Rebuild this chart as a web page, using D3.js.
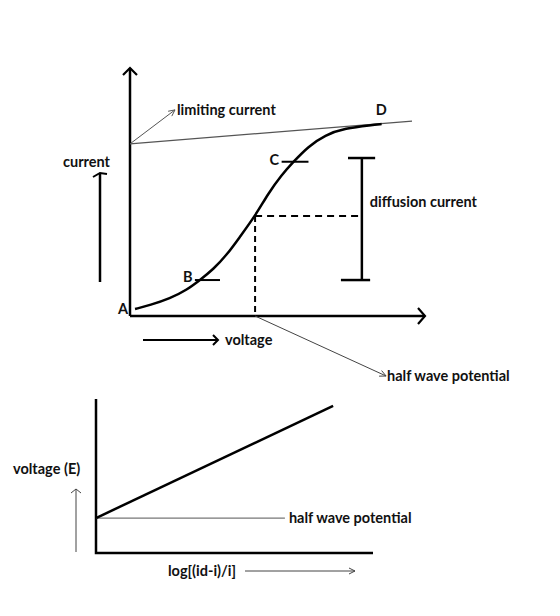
<!DOCTYPE html>
<html><head><meta charset="utf-8">
<script src="https://cdn.jsdelivr.net/npm/d3@7"></script>
<style>
html,body{margin:0;padding:0;background:#fff;}
text{font-family:Lato,"Open Sans",sans-serif;font-weight:bold;font-size:14.5px;fill:#111;}
</style></head>
<body>
<script>
// ---- Data (top: polarogram, abstract units 0..100) ----
const curveX = [1.7, 6.8, 13.6, 19.2, 23.7, 28.2, 32.8, 37.3, 42.4, 46.9, 51.4, 55.4, 60.4, 66.1, 72.9, 81.9, 85.3];
const curveY = [2.8, 4.4, 7.1, 10.5, 14.5, 18.8, 24.6, 32.0, 40.3, 49.5, 56.9, 62.2, 68.3, 73.0, 75.7, 77.0, 77.4];
const pointLabels = ["A", "B", "C", "D"];
const pointIndex = [0, 4, 11, 16];
const tangentX = [0, 95.6];
const tangentY = [69.4, 78.6];
const halfWaveX = 42.4, halfWaveY = 40.3;
const diffusionX = 78.6, diffusionTop = 63.7, diffusionBottom = 14.5;
// ---- Data (bottom: log plot) ----
const logLineX = [0, 85.6];
const logLineY = [22.7, 95.5];
const halfWaveLevel = 22.7;
const halfWaveLineEnd = 68.2;

const svg = d3.select("body").append("svg").attr("width", 560).attr("height", 616);
svg.append("rect").attr("width", 560).attr("height", 616).attr("fill", "#fff");

const x = d3.scaleLinear().domain([0, 100]).range([130, 425]);
const y = d3.scaleLinear().domain([0, 100]).range([316, 68]);

const g = svg.append("g");
// axes
g.append("line").attr("x1", x(0)).attr("y1", y(0)).attr("x2", x(0)).attr("y2", y(100))
  .attr("stroke", "#000").attr("stroke-width", 2.5);
g.append("line").attr("x1", x(0)).attr("y1", y(0)).attr("x2", x(100) - 1).attr("y2", y(0))
  .attr("stroke", "#000").attr("stroke-width", 2.5);
// arrowheads (chevrons)
g.append("path").attr("d", `M${x(0) - 7},${y(100) + 7} L${x(0)},${y(100)} L${x(0) + 7},${y(100) + 7}`)
  .attr("fill", "none").attr("stroke", "#000").attr("stroke-width", 2.2);
g.append("path").attr("d", `M${x(100) - 7},${y(0) - 8} L${x(100)},${y(0)} L${x(100) - 7},${y(0) + 8}`)
  .attr("fill", "none").attr("stroke", "#000").attr("stroke-width", 2.2);

// tangent (limiting current) line
g.append("line").attr("x1", x(tangentX[0])).attr("y1", y(tangentY[0]))
  .attr("x2", x(tangentX[1])).attr("y2", y(tangentY[1]))
  .attr("stroke", "#555").attr("stroke-width", 1.2);

// curve
const pts = curveX.map((d, i) => [d, curveY[i]]);
g.append("path").datum(pts)
  .attr("d", d3.line().x(d => x(d[0])).y(d => y(d[1])).curve(d3.curveBasis))
  .attr("fill", "none").attr("stroke", "#000").attr("stroke-width", 2.5);

// B and C ticks
const tickDefs = [[4, -1.7, 6.8], [11, -4.0, 5.1]];
tickDefs.forEach(([i, a, b]) => {
  g.append("line").attr("x1", x(curveX[i] + a)).attr("x2", x(curveX[i] + b))
    .attr("y1", y(curveY[i])).attr("y2", y(curveY[i]))
    .attr("stroke", "#000").attr("stroke-width", 2);
});

// point labels
const labelOff = [[-17, 5], [-17, 2], [-24, 3], [-6, -9]];
pointLabels.forEach((lab, k) => {
  const i = pointIndex[k];
  g.append("text").attr("x", x(curveX[i]) + labelOff[k][0]).attr("y", y(curveY[i]) + labelOff[k][1]).text(lab);
});

// dashed half-wave lines
g.append("line").attr("x1", x(halfWaveX)).attr("y1", y(halfWaveY)).attr("x2", x(halfWaveX)).attr("y2", y(0))
  .attr("stroke", "#000").attr("stroke-width", 2).attr("stroke-dasharray", "6,4");
g.append("line").attr("x1", x(halfWaveX)).attr("y1", y(halfWaveY)).attr("x2", x(diffusionX)).attr("y2", y(halfWaveY))
  .attr("stroke", "#000").attr("stroke-width", 2).attr("stroke-dasharray", "7,5");

// diffusion current bracket
g.append("line").attr("x1", x(diffusionX)).attr("x2", x(diffusionX)).attr("y1", y(diffusionTop)).attr("y2", y(diffusionBottom))
  .attr("stroke", "#000").attr("stroke-width", 2.5);
g.append("line").attr("x1", x(diffusionX - 4.7)).attr("x2", x(diffusionX + 4.5)).attr("y1", y(diffusionTop)).attr("y2", y(diffusionTop))
  .attr("stroke", "#000").attr("stroke-width", 2.5);
g.append("line").attr("x1", x(diffusionX - 7.1)).attr("x2", x(diffusionX + 2.8)).attr("y1", y(diffusionBottom)).attr("y2", y(diffusionBottom))
  .attr("stroke", "#000").attr("stroke-width", 2.5);
g.append("text").attr("x", x(diffusionX) + 8).attr("y", y(halfWaveY) - 9).text("diffusion current");

// limiting current pointer
function thinArrow(sel, x1, y1, x2, y2, color, w) {
  const ang = Math.atan2(y2 - y1, x2 - x1), L = 7, s = 0.45;
  sel.append("line").attr("x1", x1).attr("y1", y1).attr("x2", x2).attr("y2", y2).attr("stroke", color).attr("stroke-width", w);
  sel.append("path").attr("d",
    `M${x2 - L * Math.cos(ang - s)},${y2 - L * Math.sin(ang - s)} L${x2},${y2} L${x2 - L * Math.cos(ang + s)},${y2 - L * Math.sin(ang + s)}`)
    .attr("fill", "none").attr("stroke", color).attr("stroke-width", w);
}
thinArrow(g, x(0), y(tangentY[0]), x(0) + 45, y(tangentY[0]) - 34, "#555", 1);
g.append("text").attr("x", x(0) + 47).attr("y", y(tangentY[0]) - 29).text("limiting current");

// half wave potential pointer
thinArrow(g, x(halfWaveX), y(0), x(halfWaveX) + 131, y(0) + 60, "#444", 1);
g.append("text").attr("x", x(halfWaveX) + 132).attr("y", y(0) + 65).text("half wave potential");

// current label + arrow
g.append("text").attr("x", 63).attr("y", 167).text("current");
g.append("line").attr("x1", 100).attr("x2", 100).attr("y1", 282).attr("y2", 174).attr("stroke", "#000").attr("stroke-width", 2.5);
g.append("path").attr("d", "M93,177 L100,173 L107,174").attr("fill", "none").attr("stroke", "#000").attr("stroke-width", 2);

// voltage label + arrow
g.append("line").attr("x1", 143).attr("x2", 217).attr("y1", 340).attr("y2", 340).attr("stroke", "#000").attr("stroke-width", 2.2);
g.append("path").attr("d", "M213,335 L218,340 L213,345").attr("fill", "none").attr("stroke", "#000").attr("stroke-width", 2);
g.append("text").attr("x", 225).attr("y", 345).text("voltage");

// ---- bottom chart ----
const x2 = d3.scaleLinear().domain([0, 100]).range([96, 373]);
const y2 = d3.scaleLinear().domain([0, 100]).range([553, 399]);
const h = svg.append("g");
h.append("path").attr("d", `M${x2(0)},${y2(100)} L${x2(0)},${y2(0)} L${x2(100)},${y2(0)}`)
  .attr("fill", "none").attr("stroke", "#000").attr("stroke-width", 2.5);
h.append("line").attr("x1", x2(0)).attr("y1", y2(halfWaveLevel)).attr("x2", x2(halfWaveLineEnd)).attr("y2", y2(halfWaveLevel))
  .attr("stroke", "#777").attr("stroke-width", 1.3);
h.append("line").attr("x1", x2(logLineX[0])).attr("y1", y2(logLineY[0])).attr("x2", x2(logLineX[1])).attr("y2", y2(logLineY[1]))
  .attr("stroke", "#000").attr("stroke-width", 2.5);
h.append("text").attr("x", x2(halfWaveLineEnd) + 4).attr("y", y2(halfWaveLevel) + 5).text("half wave potential");
h.append("text").attr("x", 13).attr("y", 474).text("voltage (E)");
h.append("text").attr("x", 168).attr("y", 576).text("log[(id-i)/i]");
// thin arrows
h.append("line").attr("x1", 76).attr("x2", 76).attr("y1", 552).attr("y2", 489).attr("stroke", "#444").attr("stroke-width", 1);
h.append("path").attr("d", "M71,493 L76,489 L81,493").attr("fill", "none").attr("stroke", "#444").attr("stroke-width", 1);
h.append("line").attr("x1", 245).attr("x2", 355).attr("y1", 571).attr("y2", 571).attr("stroke", "#444").attr("stroke-width", 1);
h.append("path").attr("d", "M349,568 L355,571 L349,574").attr("fill", "none").attr("stroke", "#444").attr("stroke-width", 1);
</script>
</body></html>
